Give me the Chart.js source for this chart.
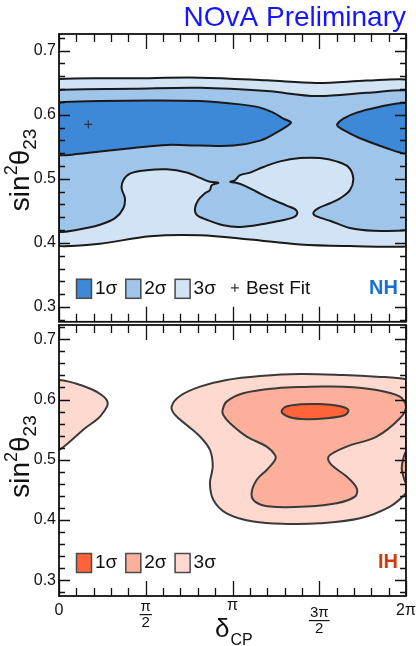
<!DOCTYPE html>
<html>
<head>
<meta charset="utf-8">
<title>NOvA sin²θ23 vs δCP</title>
<script src="https://cdn.jsdelivr.net/npm/chart.js@4.4.1/dist/chart.umd.min.js"></script>
<style>
  html, body { margin: 0; background: #fff; }
  #wrap { position: relative; width: 416px; height: 646px; }
  canvas { position: absolute; left: 0; }
</style>
</head>
<body>
<div id="wrap">
  <canvas id="nhChart" width="416" height="327" style="top:0"></canvas>
  <canvas id="ihChart" width="416" height="322" style="top:324px"></canvas>
</div>
<script>
const FONT = "'Liberation Sans', Arial, Helvetica, sans-serif";

// x axis is delta_CP in units of pi (0 .. 2)
const xTickValues = [0, 0.5, 1, 1.5, 2];
const xTickLabels = ['0', ['π', '2'], 'π', ['3π', '2'], '2π'];
const yTickValues = [0.3, 0.4, 0.5, 0.6, 0.7];

const sigmaLabels = ['1σ', '2σ', '3σ'];
const nhColors = ['#3e88d8', '#a0c5eb', '#d2e3f6'];
const ihColors = ['#ff633a', '#fcb09b', '#fed9cf'];

// ---- normal hierarchy ----
const nh3TopX = [0, 0.428, 0.813, 1.197, 1.485, 1.773, 2.0];
const nh3TopY = [0.6558, 0.6568, 0.6578, 0.6537, 0.6496, 0.6532, 0.6550];
const nh3BotX = [0, 0.236, 0.524, 0.813, 1.101, 1.389, 1.677, 2.0];
const nh3BotY = [0.3950, 0.3986, 0.4105, 0.4120, 0.4053, 0.3975, 0.3950, 0.3945];

const nh2TopX = [0, 0.428, 0.813, 1.197, 1.485, 1.773, 2.0];
const nh2TopY = [0.6385, 0.6404, 0.6419, 0.6368, 0.6291, 0.6342, 0.6380];
// lower edge of the 2 sigma region, walked left to right (it folds back round the islands)
const nh2LowX = [0, 0.159, 0.236, 0.323, 0.371, 0.380, 0.361, 0.371, 0.409, 0.505,
  0.621, 0.736, 0.813, 0.870, 0.918, 0.880, 0.870, 0.841, 0.803, 0.784,
  0.793, 0.851, 0.947, 1.043, 1.178, 1.274, 1.351, 1.374, 1.360, 1.312,
  1.216, 1.139, 1.062, 1.014, 0.986, 1.014, 1.043, 1.101, 1.178, 1.274,
  1.389, 1.504, 1.600, 1.668, 1.696, 1.677, 1.620, 1.562, 1.495, 1.466,
  1.485, 1.562, 1.677, 1.812, 2.0];
const nh2LowY = [0.4170, 0.4233, 0.4284, 0.4387, 0.4541, 0.4695, 0.4850, 0.4978, 0.5081, 0.5133,
  0.5148, 0.5097, 0.5014, 0.4953, 0.4937, 0.4901, 0.4824, 0.4773, 0.4670, 0.4541,
  0.4438, 0.4361, 0.4274, 0.4248, 0.4294, 0.4346, 0.4397, 0.4464, 0.4526, 0.4582,
  0.4695, 0.4798, 0.4901, 0.4942, 0.4953, 0.4978, 0.5056, 0.5097, 0.5184, 0.5272,
  0.5323, 0.5323, 0.5272, 0.5184, 0.5004, 0.4824, 0.4695, 0.4618, 0.4541, 0.4464,
  0.4413, 0.4346, 0.4233, 0.4190, 0.4200];

const nh1LeftX = [0, 0.236, 0.525, 0.813, 1.043, 1.159, 1.235, 1.293, 1.337, 1.312,
  1.255, 1.159, 1.005, 0.813, 0.621, 0.428, 0.236, 0.102, 0];
const nh1LeftY = [0.6190, 0.6213, 0.6223, 0.6213, 0.6161, 0.6110, 0.6033, 0.5940, 0.5879, 0.5817,
  0.5724, 0.5596, 0.5519, 0.5519, 0.5529, 0.5482, 0.5426, 0.5385, 0.5370];
const nh1RightX = [2.0, 1.850, 1.716, 1.639, 1.604, 1.610, 1.658, 1.735, 1.889, 2.0];
const nh1RightY = [0.6188, 0.6125, 0.6033, 0.5940, 0.5853, 0.5812, 0.5735, 0.5632, 0.5477, 0.5390];

const nhBestX = [0.169];
const nhBestY = [0.5848];

// ---- inverted hierarchy ----
const ih3LeftX = [0, 0.092, 0.188, 0.246, 0.275, 0.280, 0.265, 0.227, 0.150, 0.073, 0];
const ih3LeftY = [0.6325, 0.6270, 0.6170, 0.6076, 0.5993, 0.5910, 0.5827, 0.5689, 0.5523, 0.5329, 0.5163];
const ih3MainX = [2.0, 1.831, 1.639, 1.389, 1.159, 0.966, 0.813, 0.697, 0.649, 0.669,
  0.736, 0.813, 0.870, 0.886, 0.870, 0.890, 0.966, 1.120, 1.312, 1.504,
  1.735, 1.908, 2.0];
const ih3MainY = [0.6336, 0.6380, 0.6408, 0.6425, 0.6391, 0.6325, 0.6214, 0.6059, 0.5882, 0.5744,
  0.5578, 0.5385, 0.5163, 0.4887, 0.4610, 0.4333, 0.4112, 0.3974, 0.3935, 0.3946,
  0.4029, 0.4223, 0.4444];

const ih2MainX = [1.447, 1.639, 1.831, 1.965, 2.0, 1.965, 1.831, 1.658, 1.562, 1.552,
  1.581, 1.658, 1.716, 1.706, 1.600, 1.427, 1.216, 1.130, 1.110, 1.139,
  1.197, 1.245, 1.245, 1.197, 1.082, 0.986, 0.947, 0.943, 0.966, 1.062,
  1.255, 1.447];
const ih2MainY = [0.6214, 0.6214, 0.6159, 0.6048, 0.5882, 0.5689, 0.5385, 0.5219, 0.5080, 0.4997,
  0.4887, 0.4721, 0.4527, 0.4389, 0.4278, 0.4223, 0.4223, 0.4306, 0.4444, 0.4665,
  0.4831, 0.4997, 0.5080, 0.5219, 0.5385, 0.5606, 0.5744, 0.5827, 0.5965, 0.6104,
  0.6187, 0.6214];
const ih2EdgeX = [2.0, 1.985, 1.975, 1.985, 2.0];
const ih2EdgeY = [0.5136, 0.5025, 0.4859, 0.4721, 0.4610];

const ih1X = [1.504, 1.620, 1.668, 1.648, 1.543, 1.427, 1.331, 1.283, 1.308, 1.389, 1.504];
const ih1Y = [0.5927, 0.5890, 0.5827, 0.5744, 0.5689, 0.5672, 0.5705, 0.5800, 0.5882, 0.5921, 0.5927];

// ---- helpers to turn outlines into closed point lists ----
const pts = (xs, ys) => xs.map((x, i) => ({x, y: ys[i]}));
const toward = (a, b) => a + 0.006 * Math.sign(b - a);

// region between an upper and a lower edge running across the whole frame
function band(topX, topY, botX, botY) {
  const n = topX.length, m = botX.length;
  const midL = (topY[0] + botY[0]) / 2;
  const out = [{x: topX[0], y: midL}, {x: topX[0], y: toward(topY[0], midL)}];
  out.push(...pts(topX, topY));
  out.push({x: topX[n - 1], y: toward(topY[n - 1], botY[m - 1])});
  out.push({x: botX[m - 1], y: toward(botY[m - 1], topY[n - 1])});
  out.push(...pts(botX, botY).reverse());
  out.push({x: botX[0], y: toward(botY[0], midL)}, {x: topX[0], y: midL});
  return out;
}

// outline that starts and ends on the same frame edge
function edgeLoop(xs, ys) {
  const n = xs.length;
  const mid = (ys[0] + ys[n - 1]) / 2;
  return [{x: xs[0], y: mid}, {x: xs[0], y: toward(ys[0], mid)},
    ...pts(xs, ys),
    {x: xs[n - 1], y: toward(ys[n - 1], mid)}, {x: xs[0], y: mid}];
}

function region(label, data, fillColor, lineColor, order) {
  return {
    label, data, order,
    backgroundColor: fillColor,
    borderColor: lineColor,
    borderWidth: 2,
    fill: 'shape',
    pointRadius: 0,
    tension: 0.35
  };
}

// frame, inward ticks, axis titles, legend
const decor = {
  id: 'decor',
  afterDraw(chart, args, o) {
    const {ctx, chartArea: a} = chart;
    const x = chart.scales.x, y = chart.scales.y;
    const L = a.left, R = a.right, T = a.top, B = a.bottom;
    ctx.save();

    // inward ticks on all four sides
    ctx.strokeStyle = '#111111';
    ctx.lineWidth = 1.3;
    ctx.beginPath();
    for (let k = 0; k <= 20; k++) {
      const px = Math.round(L + (R - L) * k / 20) + 0.5;
      const len = k % 5 ? 8 : 15;
      ctx.moveTo(px, T); ctx.lineTo(px, T + len);
      ctx.moveTo(px, B); ctx.lineTo(px, B - len);
    }
    for (let k = 14; k <= 36; k++) {
      const py = Math.round(y.getPixelForValue(k / 50)) + 0.5;
      const len = k % 5 ? 6 : 11;
      ctx.moveTo(L, py); ctx.lineTo(L + len, py);
      ctx.moveTo(R, py); ctx.lineTo(R - len, py);
    }
    ctx.stroke();
    ctx.lineWidth = 1.8;
    ctx.strokeRect(L, T, R - L, B - T);

    // legend
    let lx = L + 17;
    const base = B - 28;
    ctx.font = '19px ' + FONT;
    ctx.textBaseline = 'alphabetic';
    ctx.textAlign = 'left';
    sigmaLabels.forEach((lab, i) => {
      ctx.fillStyle = o.colors[i];
      ctx.fillRect(lx, B - 43, 16, 20);
      ctx.strokeStyle = '#4a4a4a';
      ctx.lineWidth = 1.5;
      ctx.strokeRect(lx + 0.5, B - 42.5, 15, 19);
      ctx.fillStyle = '#111';
      ctx.fillText(lab, lx + 19, base);
      lx += 19 + ctx.measureText(lab).width + 8;
    });
    if (o.bestFit) {
      const cx = lx + 11, cy = base - 6;
      ctx.strokeStyle = '#333';
      ctx.lineWidth = 1.2;
      ctx.beginPath();
      ctx.moveTo(cx - 4, cy); ctx.lineTo(cx + 4, cy);
      ctx.moveTo(cx, cy - 4); ctx.lineTo(cx, cy + 4);
      ctx.stroke();
      ctx.fillStyle = '#111';
      ctx.fillText(o.bestFit, lx + 22, base);
    }

    // hierarchy tag
    ctx.font = 'bold 20px ' + FONT;
    ctx.textAlign = 'right';
    ctx.fillStyle = o.tagColor;
    ctx.fillText(o.tag, R - 8, base);

    // y title: sin^2(theta_23)
    ctx.translate(29, (T + B) / 2 + o.titleShift);
    ctx.rotate(-Math.PI / 2);
    ctx.textAlign = 'left';
    ctx.fillStyle = '#111';
    const parts = [['sin', 28, 0], ['2', 18, -12], ['θ', 28, 0], ['23', 19, 7]];
    let total = 0;
    parts.forEach(p => { ctx.font = p[1] + 'px ' + FONT; total += ctx.measureText(p[0]).width; });
    let tx = -total / 2;
    parts.forEach(p => {
      ctx.font = p[1] + 'px ' + FONT;
      ctx.fillText(p[0], tx, p[2]);
      tx += ctx.measureText(p[0]).width;
    });
    ctx.setTransform(1, 0, 0, 1, 0, 0);

    // x tick labels and title (lower panel only)
    if (o.xLabels) {
      ctx.fillStyle = '#111';
      ctx.textAlign = 'center';
      xTickValues.forEach((v, i) => {
        const px = x.getPixelForValue(v);
        const lab = xTickLabels[i];
        if (Array.isArray(lab)) {
          const dy = lab[0].length > 1 ? 6 : 0;
          ctx.font = '15px ' + FONT;
          ctx.fillText(lab[0], px, B + 15 + dy);
          const w = ctx.measureText(lab[0]).width;
          ctx.fillRect(px - w / 2 - 1, B + 18 + dy, w + 2, 1.2);
          ctx.fillText(lab[1], px, B + 31 + dy);
        } else {
          ctx.font = '16px ' + FONT;
          ctx.fillText(lab, px, B + (lab === 'π' ? 14 : 19));
        }
      });
      const mid = (L + R) / 2;
      ctx.font = '26px ' + FONT;
      ctx.textAlign = 'right';
      ctx.fillText('δ', mid - 3, B + 41);
      ctx.font = '16px ' + FONT;
      ctx.textAlign = 'left';
      ctx.fillText('CP', mid - 2, B + 49);
    }
    ctx.restore();
  }
};

function panelOptions(yMin, yMax, pad, decorOpts, title) {
  return {
    responsive: false,
    devicePixelRatio: 1,
    animation: false,
    events: [],
    layout: {padding: pad},
    plugins: {
      legend: {display: false},
      tooltip: {enabled: false},
      title: title || {display: false},
      decor: decorOpts
    },
    scales: {
      x: {type: 'linear', min: 0, max: 2, display: false},
      y: {
        min: yMin, max: yMax,
        afterBuildTicks: s => { s.ticks = yTickValues.map(v => ({value: v})); },
        afterFit: s => { s.width = 59; s.paddingTop = 0; s.paddingBottom = 0; },
        grid: {display: false, drawTicks: false},
        border: {display: false},
        ticks: {
          padding: 3, color: '#111',
          font: {family: FONT, size: 16},
          callback: v => v.toFixed(1)
        }
      }
    }
  };
}

new Chart(document.getElementById('nhChart'), {
  type: 'line',
  data: {
    datasets: [
      region('3σ', band(nh3TopX, nh3TopY, nh3BotX, nh3BotY), nhColors[2], '#1a1a1a', 3),
      region('2σ', band(nh2TopX, nh2TopY, nh2LowX, nh2LowY), nhColors[1], '#1a1a1a', 2),
      region('1σ', edgeLoop(nh1LeftX, nh1LeftY), nhColors[0], '#1a1a1a', 1),
      region('1σ', edgeLoop(nh1RightX, nh1RightY), nhColors[0], '#1a1a1a', 1),
      {
        label: 'Best Fit', data: pts(nhBestX, nhBestY), order: 0,
        showLine: false, fill: false,
        pointStyle: 'cross', pointRadius: 4, borderColor: '#333', borderWidth: 1.2
      }
    ]
  },
  options: panelOptions(0.2769, 0.7259, {left: 0, right: 10, top: 0, bottom: 2},
    {colors: nhColors, bestFit: 'Best Fit', tag: 'NH', tagColor: '#1b6fd0', titleShift: -8, xLabels: false},
    {
      display: true, text: 'NOvA Preliminary', align: 'end', color: '#1515ff',
      font: {family: FONT, size: 28, weight: 'normal', lineHeight: 1},
      padding: {top: 4, bottom: 2}
    }),
  plugins: [decor]
});

new Chart(document.getElementById('ihChart'), {
  type: 'line',
  data: {
    datasets: [
      region('3σ', edgeLoop(ih3LeftX, ih3LeftY), ihColors[2], '#3a3a3a', 3),
      region('3σ', edgeLoop(ih3MainX, ih3MainY), ihColors[2], '#3a3a3a', 3),
      region('2σ', pts(ih2MainX, ih2MainY), ihColors[1], '#3a3a3a', 2),
      region('2σ', edgeLoop(ih2EdgeX, ih2EdgeY), ihColors[1], '#3a3a3a', 2),
      region('1σ', pts(ih1X, ih1Y), ihColors[0], '#3a3a3a', 1)
    ]
  },
  options: panelOptions(0.2739, 0.7237, {left: 0, right: 10, top: 1, bottom: 50},
    {colors: ihColors, bestFit: null, tag: 'IH', tagColor: '#d33a0c', titleShift: -4, xLabels: true}),
  plugins: [decor]
});
</script>
</body>
</html>
